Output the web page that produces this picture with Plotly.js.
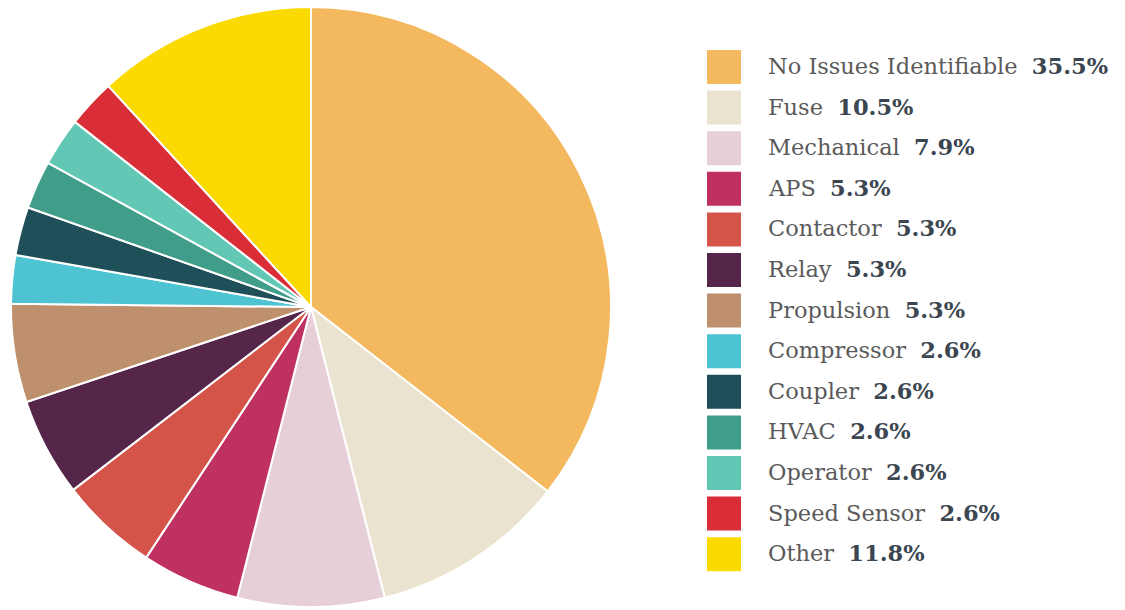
<!DOCTYPE html>
<html>
<head>
<meta charset="utf-8">
<script src="https://cdn.plot.ly/plotly-3.0.1.min.js"></script>
<style>html,body{margin:0;padding:0;background:#fff;}#chart{width:1125px;height:610px;}</style>
</head>
<body>
<div id="chart"></div>
<script>
const categories = ["No Issues Identifiable","Fuse","Mechanical","APS","Contactor","Relay","Propulsion","Compressor","Coupler","HVAC","Operator","Speed Sensor","Other"];
const shares = [35.5,10.5,7.9,5.3,5.3,5.3,5.3,2.6,2.6,2.6,2.6,2.6,11.8];
const colors = ["#F4B85E","#EAE3CF","#E7CFDA","#BF3160","#D5544A","#55264A","#BF906E","#4EC4D3","#1F4F59","#3F9D89","#62C7B4","#D92D38","#FADA00"];

const W = 1125, H = 610;
const legendX = 707, swatch = 34, textX = 766, firstY = 67, rowStep = 40.6;

const shapes = [];
const annotations = [];
categories.forEach((c, i) => {
  const cy = firstY + i * rowStep;
  shapes.push({type:'rect', xref:'paper', yref:'paper',
    x0: legendX / W, x1: (legendX + swatch) / W,
    y0: 1 - (cy - swatch/2) / H, y1: 1 - (cy + swatch/2) / H,
    fillcolor: colors[i], line:{width:0}});
  annotations.push({xref:'paper', yref:'paper', x: textX / W, y: 1 - (cy - 1) / H,
    xanchor:'left', yanchor:'middle', showarrow:false,
    text: c + '  <b><span style="color:#3B4650">' + shares[i].toFixed(1) + '%</span></b>',
    font:{family:'"DejaVu Serif", "Liberation Serif", serif', size:22.5, color:'#5A5A5A'}});
});

const data = [{
  type:'pie', labels: categories, values: shares, sort:false, direction:'clockwise', rotation:0,
  marker:{colors: colors, line:{color:'#ffffff', width:2}},
  textinfo:'none', hoverinfo:'label+percent', showlegend:false,
  domain:{x:[10/W, 612/W], y:[3/H, 603/H]}
}];

const layout = {
  width: W, height: H, margin:{l:0,r:0,t:0,b:0},
  paper_bgcolor:'#ffffff', plot_bgcolor:'#ffffff',
  showlegend:false, shapes: shapes, annotations: annotations
};
Plotly.newPlot('chart', data, layout, {displayModeBar:false, staticPlot:true});
</script>
</body>
</html>
